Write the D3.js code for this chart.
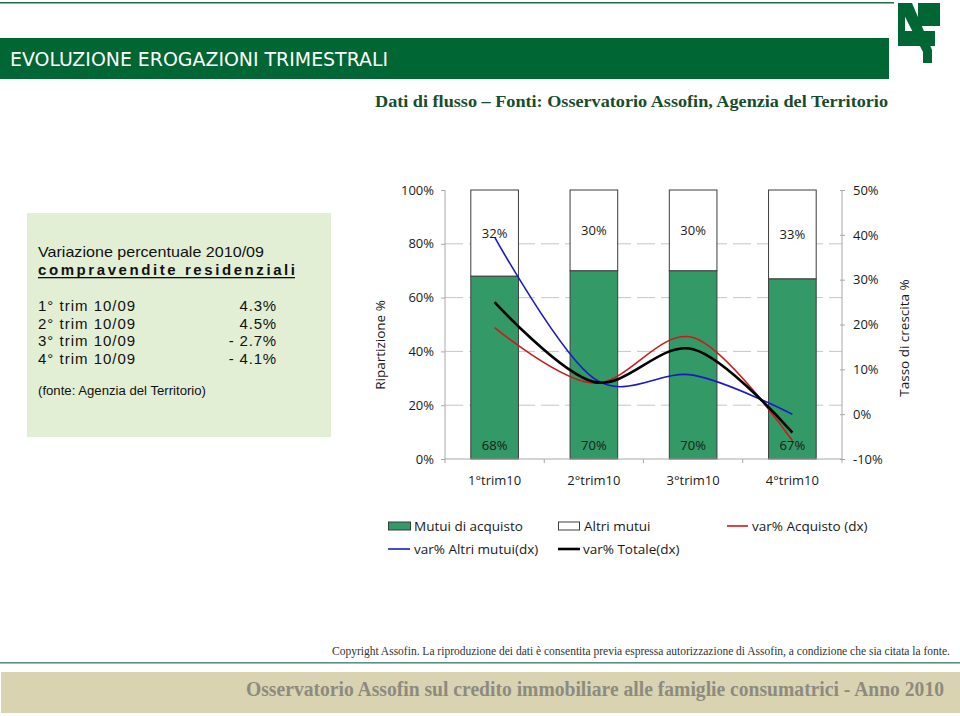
<!DOCTYPE html>
<html><head><meta charset="utf-8">
<script src="https://cdn.jsdelivr.net/npm/d3@7"></script>
<style>
html,body{margin:0;padding:0;background:#fff;}
svg{display:block;}
</style></head>
<body>
<svg id="chart" width="960" height="716"></svg>
<script>
// ---------- DATA ----------
const categories = ["1°trim10", "2°trim10", "3°trim10", "4°trim10"];
const mutuiAcquisto = [68, 70, 70, 67];
const altriMutui = [32, 30, 30, 33];
const varAcquisto = [19.3, 6.9, 17.1, -5.9];
const varAltriMutui = [39.5, 8.0, 8.7, 0.0];
const varTotale = [25.0, 7.2, 14.5, -4.1];
const leftTicks = [0, 20, 40, 60, 80, 100];
const rightTicks = [-10, 0, 10, 20, 30, 40, 50];
const gridTicks = [20, 40, 60, 80];
const boxRowLabels = ["1° trim 10/09", "2° trim 10/09", "3° trim 10/09", "4° trim 10/09"];
const boxRowValues = ["4.3%", "4.5%", "- 2.7%", "- 4.1%"];
const legendLabels = ["Mutui di acquisto", "Altri mutui", "var% Acquisto (dx)", "var% Altri mutui(dx)", "var% Totale(dx)"];

// ---------- SETUP ----------
const svg = d3.select("#chart");
const SANS = "'Open Sans', 'Noto Sans', sans-serif";
const SERIF = "'Liberation Serif', 'DejaVu Serif', serif";
const ARIAL = "'Liberation Sans', Arial, sans-serif";
const GREEN_BAR = "#339966";

// ---------- HEADER ----------
svg.append("rect").attr("x", 0).attr("y", 2).attr("width", 894).attr("height", 1.5).attr("fill", "#1f6e43");
svg.append("rect").attr("x", 0).attr("y", 38).attr("width", 889).attr("height", 41).attr("fill", "#006633");
svg.append("text").attr("x", 10).attr("y", 66).attr("fill", "#fff")
  .attr("font-family", "'Liberation Sans Narrow', 'DejaVu Sans Condensed', sans-serif")
  .attr("font-size", 20).attr("textLength", 378).attr("lengthAdjust", "spacingAndGlyphs")
  .text("EVOLUZIONE EROGAZIONI TRIMESTRALI");
// logo
const logo = svg.append("g").attr("fill", "#006633");
logo.append("polygon").attr("points", "898,3 912,3 932,50 932,63 923,63 923,52");
logo.append("rect").attr("x", 918).attr("y", 3).attr("width", 22).attr("height", 23);
logo.append("rect").attr("x", 900).attr("y", 31).attr("width", 35).attr("height", 15);
logo.append("rect").attr("x", 898).attr("y", 3).attr("width", 7).attr("height", 43);

svg.append("text").attr("x", 888).attr("y", 107).attr("text-anchor", "end")
  .attr("fill", "#174d2c").attr("font-family", SERIF).attr("font-size", 17).attr("font-weight", "bold")
  .attr("textLength", 513).attr("lengthAdjust", "spacingAndGlyphs")
  .text("Dati di flusso – Fonti: Osservatorio Assofin, Agenzia del Territorio");

// ---------- TEXT BOX ----------
svg.append("rect").attr("x", 27).attr("y", 213).attr("width", 304).attr("height", 224).attr("fill", "#e2efd5");
const tb = svg.append("g").attr("font-family", ARIAL).attr("fill", "#111");
tb.append("text").attr("x", 38).attr("y", 257).attr("font-size", 15).attr("textLength", 226)
  .attr("lengthAdjust", "spacingAndGlyphs").text("Variazione percentuale 2010/09");
tb.append("text").attr("x", 38).attr("y", 275).attr("font-size", 15).attr("font-weight", "bold")
  .attr("textLength", 257).text("compravendite residenziali");
tb.append("rect").attr("x", 38).attr("y", 277).attr("width", 257).attr("height", 1.3).attr("fill", "#111");
boxRowLabels.forEach((lab, i) => {
  const yy = 311 + i * 17.5;
  tb.append("text").attr("x", 38).attr("y", yy).attr("font-size", 15).attr("letter-spacing", 1).text(lab);
  tb.append("text").attr("x", 277).attr("y", yy).attr("font-size", 15).attr("text-anchor", "end")
    .attr("letter-spacing", 0.8).text(boxRowValues[i]);
});
tb.append("text").attr("x", 38).attr("y", 395).attr("font-size", 12.5).attr("textLength", 168)
  .attr("lengthAdjust", "spacingAndGlyphs").text("(fonte: Agenzia del Territorio)");

// ---------- CHART ----------
const x = d3.scaleBand().domain(categories).range([445, 842]).paddingInner(0.52).paddingOuter(0.26);
const yL = d3.scaleLinear().domain([0, 100]).range([459, 190]);
const yR = d3.scaleLinear().domain([-10, 50]).range([459, 190]);
const [x0, x1] = x.range();

// gridlines
svg.append("g").selectAll("line").data(gridTicks).join("line")
  .attr("x1", x0).attr("x2", x1).attr("y1", d => yL(d)).attr("y2", d => yL(d))
  .attr("stroke", "#c6c6c6").attr("stroke-width", 1).attr("stroke-dasharray", "18,6");

// bars
const stacked = categories.map((c, i) => ({c, a: mutuiAcquisto[i], b: altriMutui[i]}));
const bars = svg.append("g");
bars.selectAll("rect.g").data(stacked).join("rect").attr("class", "g")
  .attr("x", d => x(d.c)).attr("width", x.bandwidth())
  .attr("y", d => yL(d.a)).attr("height", d => yL(0) - yL(d.a))
  .attr("fill", GREEN_BAR).attr("stroke", "#3d3d3d").attr("stroke-width", 1);
bars.selectAll("rect.w").data(stacked).join("rect").attr("class", "w")
  .attr("x", d => x(d.c)).attr("width", x.bandwidth())
  .attr("y", d => yL(d.a + d.b)).attr("height", d => yL(d.a) - yL(d.a + d.b))
  .attr("fill", "#fff").attr("stroke", "#3d3d3d").attr("stroke-width", 1);

// axes
const axL = svg.append("g").attr("transform", `translate(${x0},0)`)
  .call(d3.axisLeft(yL).tickValues(leftTicks).tickFormat(d => d + "%").tickSize(4).tickPadding(7));
const axR = svg.append("g").attr("transform", `translate(${x1},0)`)
  .call(d3.axisRight(yR).tickValues(rightTicks).tickFormat(d => d + "%").tickSize(3).tickPadding(8));
axR.selectAll(".tick line").attr("x1", -2);
[axL, axR].forEach(ax => {
  ax.selectAll(".tick line").attr("stroke", "#a8a8a8");
  ax.selectAll("text").attr("font-family", SANS).attr("font-size", 13).attr("fill", "#1a1a1a");
});
axL.select(".domain").remove();
axR.select(".domain").remove();
svg.append("line").attr("x1", x0).attr("x2", x0).attr("y1", yL(100)).attr("y2", yL(0)).attr("stroke", "#a8a8a8");
svg.append("line").attr("x1", x1).attr("x2", x1).attr("y1", yR(50)).attr("y2", yR(-10)).attr("stroke", "#a8a8a8");
// bottom axis
svg.append("line").attr("x1", x0).attr("x2", x1).attr("y1", yL(0)).attr("y2", yL(0)).attr("stroke", "#a8a8a8");
const bounds = d3.range(categories.length + 1).map(i => x0 + i * x.step());
svg.append("g").selectAll("line").data(bounds).join("line")
  .attr("x1", d => d).attr("x2", d => d).attr("y1", yL(0)).attr("y2", yL(0) + 4).attr("stroke", "#a8a8a8");
svg.append("g").selectAll("text").data(categories).join("text")
  .attr("x", d => x(d) + x.bandwidth() / 2).attr("y", 485).attr("text-anchor", "middle")
  .attr("font-family", SANS).attr("font-size", 13).attr("fill", "#1a1a1a").text(d => d);

// axis titles
svg.append("text").attr("transform", `translate(385,345) rotate(-90)`).attr("text-anchor", "middle")
  .attr("font-family", SANS).attr("font-size", 13.5).attr("fill", "#1a1a1a").text("Ripartizione %");
svg.append("text").attr("transform", `translate(909,338) rotate(-90)`).attr("text-anchor", "middle")
  .attr("font-family", SANS).attr("font-size", 13.5).attr("fill", "#1a1a1a").text("Tasso di crescita %");

// data labels
const lbl = svg.append("g").attr("font-family", SANS).attr("font-size", 13).attr("fill", "#1a1a1a").attr("text-anchor", "middle");
lbl.selectAll("text.a").data(stacked).join("text").attr("class", "a")
  .attr("x", d => x(d.c) + x.bandwidth() / 2).attr("y", yL(0) - 9).text(d => d.a + "%");
lbl.selectAll("text.b").data(stacked).join("text").attr("class", "b")
  .attr("x", d => x(d.c) + x.bandwidth() / 2).attr("y", d => yL(d.a + d.b / 2) + 5).text(d => d.b + "%");

// lines
const lineGen = d3.line().x((d, i) => x(categories[i]) + x.bandwidth() / 2).y(d => yR(d))
  .curve(d3.curveCatmullRom.alpha(0));
const series = [
  {v: varAltriMutui, c: "#1a1ac8", w: 1.6},
  {v: varAcquisto, c: "#cc1a1a", w: 1.6},
  {v: varTotale, c: "#000", w: 2.6}
];
svg.append("g").selectAll("path").data(series).join("path")
  .attr("d", d => lineGen(d.v)).attr("fill", "none").attr("stroke", d => d.c).attr("stroke-width", d => d.w);

// ---------- LEGEND ----------
const lg = svg.append("g").attr("font-family", SANS).attr("font-size", 13.5).attr("fill", "#1a1a1a");
lg.append("rect").attr("x", 388.5).attr("y", 522).attr("width", 22).attr("height", 8).attr("fill", GREEN_BAR).attr("stroke", "#3d3d3d");
lg.append("text").attr("x", 414).attr("y", 531).text(legendLabels[0]);
lg.append("rect").attr("x", 558.5).attr("y", 522).attr("width", 21).attr("height", 8).attr("fill", "#fff").attr("stroke", "#3d3d3d");
lg.append("text").attr("x", 584).attr("y", 531).text(legendLabels[1]);
lg.append("line").attr("x1", 727).attr("x2", 748).attr("y1", 526).attr("y2", 526).attr("stroke", "#cc1a1a").attr("stroke-width", 1.6);
lg.append("text").attr("x", 752).attr("y", 531).text(legendLabels[2]);
lg.append("line").attr("x1", 388).attr("x2", 410).attr("y1", 549).attr("y2", 549).attr("stroke", "#1a1ac8").attr("stroke-width", 1.6);
lg.append("text").attr("x", 414).attr("y", 554).text(legendLabels[3]);
lg.append("line").attr("x1", 558).attr("x2", 580).attr("y1", 549).attr("y2", 549).attr("stroke", "#000").attr("stroke-width", 2.6);
lg.append("text").attr("x", 583).attr("y", 554).text(legendLabels[4]);

// ---------- FOOTER ----------
svg.append("text").attr("x", 332).attr("y", 655).attr("font-family", SERIF).attr("font-size", 11.5)
  .attr("fill", "#333").attr("textLength", 618).attr("lengthAdjust", "spacingAndGlyphs")
  .text("Copyright Assofin. La riproduzione dei dati è consentita previa espressa autorizzazione di Assofin, a condizione che sia citata la fonte.");
svg.append("rect").attr("x", 0).attr("y", 662).attr("width", 960).attr("height", 1.6).attr("fill", "#5e9182");
svg.append("rect").attr("x", 1).attr("y", 672).attr("width", 959).attr("height", 41).attr("fill", "#d9d3b2");
svg.append("text").attr("x", 246).attr("y", 696).attr("font-family", SERIF).attr("font-size", 20).attr("font-weight", "bold")
  .attr("fill", "#8d8b80").attr("textLength", 698).attr("lengthAdjust", "spacingAndGlyphs")
  .text("Osservatorio Assofin sul credito immobiliare alle famiglie consumatrici - Anno 2010");
</script>
</body></html>
